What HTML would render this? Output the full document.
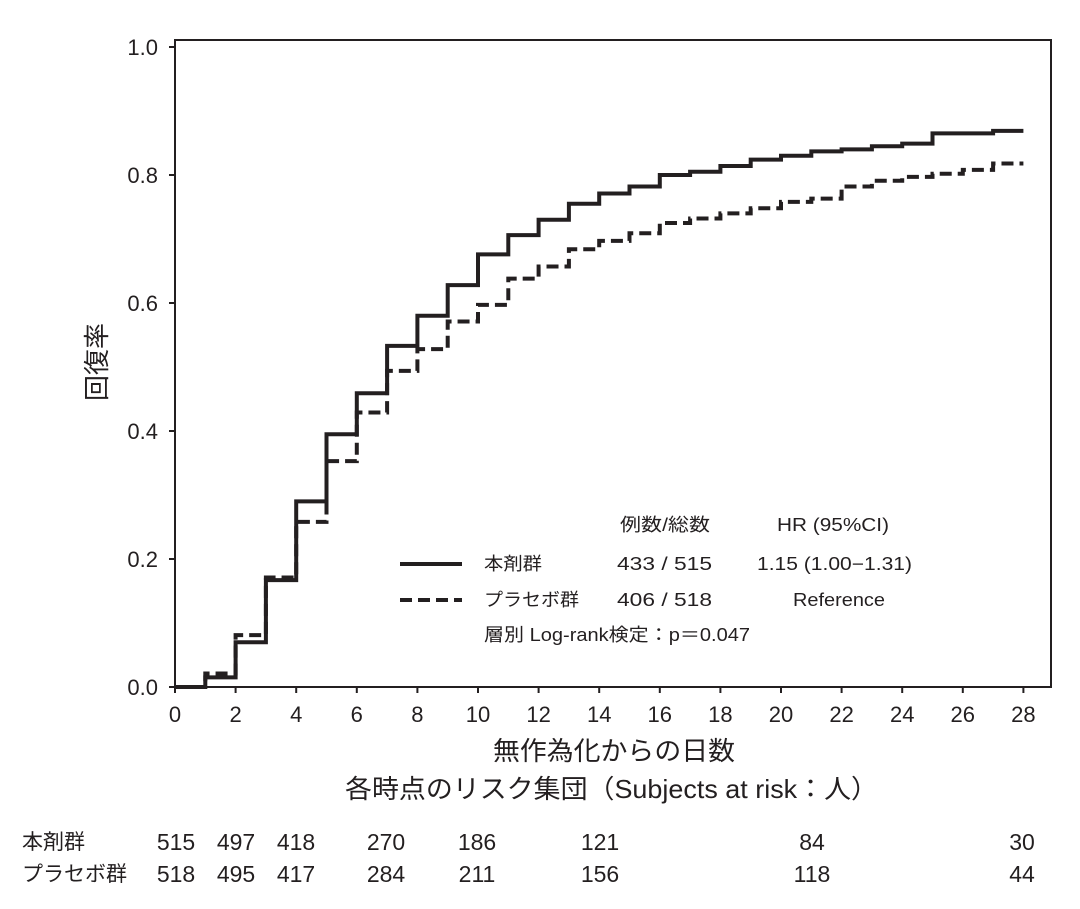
<!DOCTYPE html>
<html><head><meta charset="utf-8"><style>
html,body{margin:0;padding:0;background:#fff;}
svg text{font-family:"Liberation Sans","Noto Sans CJK JP",sans-serif;fill:#231f20;}
</style></head><body>
<svg id="s" width="1080" height="904" viewBox="0 0 1080 904" xmlns="http://www.w3.org/2000/svg">
<rect x="175" y="40" width="876" height="647" fill="none" stroke="#231f20" stroke-width="2"/>
<g id="ticks" stroke="#231f20" stroke-width="2"></g>
<g font-size="22" text-anchor="end" id="ylab"></g>
<g font-size="22" text-anchor="middle" id="xlab"></g>
<path id="solid" fill="none" stroke="#231f20" stroke-width="4"/>
<path id="dash" fill="none" stroke="#231f20" stroke-width="4" stroke-dasharray="12,6"/>
<text x="0" y="0" font-size="26" text-anchor="middle" transform="translate(106,362) rotate(-90)">回復率</text>
<line x1="400" y1="564" x2="462" y2="564" stroke="#231f20" stroke-width="4"/>
<line x1="400" y1="600" x2="462" y2="600" stroke="#231f20" stroke-width="4" stroke-dasharray="12,6"/>
<g font-size="18">
<text x="620" y="531" textLength="90" lengthAdjust="spacingAndGlyphs">例数/総数</text>
<text x="777" y="531" textLength="112" lengthAdjust="spacingAndGlyphs">HR (95%CI)</text>
<text x="484" y="570" textLength="58" lengthAdjust="spacingAndGlyphs">本剤群</text>
<text x="617" y="570" textLength="95" lengthAdjust="spacingAndGlyphs">433 / 515</text>
<text x="757" y="570" textLength="155" lengthAdjust="spacingAndGlyphs">1.15 (1.00−1.31)</text>
<text x="484" y="606" textLength="95" lengthAdjust="spacingAndGlyphs">プラセボ群</text>
<text x="617" y="606" textLength="95" lengthAdjust="spacingAndGlyphs">406 / 518</text>
<text x="793" y="606" textLength="92" lengthAdjust="spacingAndGlyphs">Reference</text>
<text x="484" y="641" textLength="266" lengthAdjust="spacingAndGlyphs">層別 Log-rank検定：p＝0.047</text>
</g>
<text x="493" y="760" font-size="26" textLength="242" lengthAdjust="spacingAndGlyphs">無作為化からの日数</text>
<text x="345" y="798" font-size="26" textLength="533" lengthAdjust="spacingAndGlyphs">各時点のリスク集団（Subjects at risk：人）</text>
<g font-size="21">
<text x="22" y="849">本剤群</text>
<text x="22" y="881">プラセボ群</text>
</g>
<g font-size="23" text-anchor="middle" id="risk"></g>
</svg>
<script>
var NS="http://www.w3.org/2000/svg";
function X(d){return 175+d*30.3;}function Y(v){return 687-640*v;}
function el(p,t,a,txt){var e=document.createElementNS(NS,t);for(var k in a)e.setAttribute(k,a[k]);if(txt!==undefined)e.textContent=txt;document.getElementById(p).appendChild(e);}
for(var i=0;i<=5;i++){var v=i*0.2;el("ticks","line",{x1:169,x2:175,y1:Y(v),y2:Y(v)});el("ylab","text",{x:158,y:Y(v)+8},v.toFixed(1));}
for(var d=0;d<=28;d+=2){el("ticks","line",{x1:X(d),x2:X(d),y1:687,y2:693});el("xlab","text",{x:X(d),y:722},d);}
var s=[0,0.015,0.07,0.167,0.29,0.395,0.459,0.533,0.58,0.628,0.676,0.706,0.73,0.755,0.771,0.782,0.80,0.805,0.814,0.824,0.83,0.837,0.84,0.845,0.849,0.865,0.865,0.869];
var q=[0,0.021,0.081,0.171,0.258,0.353,0.429,0.494,0.528,0.571,0.597,0.638,0.657,0.684,0.697,0.709,0.725,0.732,0.74,0.748,0.758,0.763,0.782,0.791,0.797,0.802,0.808,0.818];
function path(a){var p="M"+X(0)+","+Y(a[0]);for(var i=0;i<a.length;i++){p+=" L"+X(i)+","+Y(a[i])+" L"+X(i+1)+","+Y(a[i]);}return p;}
document.getElementById("solid").setAttribute("d",path(s));
document.getElementById("dash").setAttribute("d",path(q));
var xs=[176,236,296,386,477,600,812,1022];
var r1=[515,497,418,270,186,121,84,30],r2=[518,495,417,284,211,156,118,44];
for(var i=0;i<8;i++){el("risk","text",{x:xs[i],y:850},r1[i]);el("risk","text",{x:xs[i],y:882},r2[i]);}
</script>
</body></html>
